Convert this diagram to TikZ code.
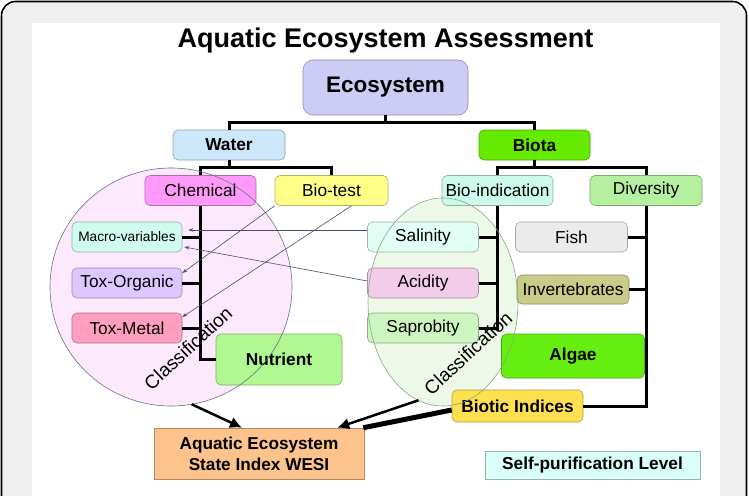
\documentclass[tikz,border=0pt]{standalone}
\usepackage{fontspec}
\setmainfont{Liberation Sans}
\usepackage{xcolor}
\usepackage{tikz}
\usetikzlibrary{arrows,arrows.meta,shapes,positioning}

\definecolor{framec}{RGB}{240,240,240}
\definecolor{ecoc}{RGB}{204,204,245}
\definecolor{waterc}{RGB}{204,230,250}
\definecolor{biotac}{RGB}{100,235,0}
\definecolor{chemc}{RGB}{255,153,250}
\definecolor{testc}{RGB}{255,255,136}
\definecolor{indc}{RGB}{204,250,235}
\definecolor{divc}{RGB}{180,240,160}
\definecolor{macroc}{RGB}{208,252,238}
\definecolor{orgc}{RGB}{220,200,255}
\definecolor{metc}{RGB}{255,158,192}
\definecolor{nutc}{RGB}{176,248,144}
\definecolor{salc}{RGB}{225,255,245}
\definecolor{acidc}{RGB}{242,204,232}
\definecolor{saprc}{RGB}{205,245,192}
\definecolor{fishc}{RGB}{235,235,235}
\definecolor{invc}{RGB}{200,204,136}
\definecolor{algc}{RGB}{102,238,17}
\definecolor{bioticc}{RGB}{255,224,80}
\definecolor{selfc}{RGB}{217,255,248}
\definecolor{wesic}{RGB}{252,196,140}
\definecolor{linkc}{RGB}{70,80,110}
\definecolor{zonepc}{RGB}{252,233,252}
\definecolor{zonepd}{RGB}{110,110,140}
\definecolor{zonegc}{RGB}{238,248,232}
\definecolor{zonegd}{RGB}{130,170,130}

\begin{document}
\begin{tikzpicture}[x=1pt,y=-1pt,
    box/.style={rectangle, rounded corners=5pt, fill=#1, draw=#1!70!black, line width=0.6pt,
      minimum width=111pt, minimum height=30pt, inner sep=0pt, font=\fontsize{17.3}{19}\selectfont},
    hbox/.style={box=#1, font=\bfseries\fontsize{17.3}{19}\selectfont},
    tree/.style={line width=3pt},
    link/.style={-{Stealth[length=5pt,width=3.5pt]}, draw=linkc, line width=0.6pt},
    big/.style={-{Latex[length=12pt,width=12pt]}, line width=2.5pt},
    zone/.style={ellipse, inner sep=0pt, outer sep=0pt, line width=0.6pt},
    cls/.style={rotate=43, font=\fontsize{19}{20}\selectfont}]

    \useasboundingbox (0,0) rectangle (749,495);
    \clip (0,0) rectangle (749,495);
    \draw[line width=1.6pt, rounded corners=14pt, fill=framec] (1.5,1.5) rectangle (746.5,560);
    \fill[white] (32,23) rectangle (720,500);

    \node[font=\bfseries\fontsize{27}{30}\selectfont, anchor=base] (title) at (385.5,48) {Aquatic Ecosystem Assessment};

    \node[zone, fill=zonepc, minimum width=242pt, minimum height=238pt] (cls1) at (171,287) {};
    \node[zone, fill=zonegc, minimum width=150pt, minimum height=208pt] (cls2) at (443,302) {};

    \node[hbox=ecoc, minimum width=165pt, minimum height=55pt, rounded corners=10pt, font=\bfseries\fontsize{22.5}{26}\selectfont] (eco) at (385.5,87.5) {Ecosystem};
    \node[hbox=waterc, minimum width=112pt] (water) at (229,145) {Water};
    \node[hbox=biotac] (biota) at (534.5,145) {Biota};
    \node[box=chemc] (chem) at (200.5,190.5) {Chemical};
    \node[box=testc, minimum width=113pt] (biotest) at (331.5,190.5) {Bio-test};
    \node[box=indc] (bioind) at (497.5,190.5) {Bio-indication};
    \node[box=divc, minimum width=112pt] (div) at (646,190.5) {Diversity};
    \node[box=macroc, minimum width=110pt, font=\fontsize{13.7}{15}\selectfont] (macro) at (127,237) {Macro-variables};
    \node[box=orgc, minimum width=110pt] (toxorg) at (127,283) {Tox-Organic};
    \node[box=metc, minimum width=110pt] (toxmet) at (127,328) {Tox-Metal};
    \node[hbox=nutc, minimum width=126pt, minimum height=51pt] (nutr) at (279,359.5) {Nutrient};
    \node[box=salc] (sal) at (423,237) {Salinity};
    \node[box=acidc] (acid) at (423,283) {Acidity};
    \node[box=saprc] (sapr) at (423,328) {Saprobity};
    \node[box=fishc, minimum width=112pt] (fish) at (571.5,237) {Fish};
    \node[box=invc, minimum width=112pt, minimum height=29pt] (inv) at (573,289.5) {Invertebrates};
    \node[hbox=algc, minimum width=143pt, minimum height=44pt] (algae) at (573,356) {Algae};
    \node[hbox=bioticc, minimum width=131pt, minimum height=32pt] (biotic) at (517.5,406) {Biotic Indices};
    \node[hbox=selfc, sharp corners, minimum width=215pt, minimum height=28pt] (self) at (592.5,465) {Self-purification Level};
    \node[hbox=wesic, sharp corners, minimum width=210pt, minimum height=51pt, align=center, font=\bfseries\fontsize{17.2}{21}\selectfont] (wesi) at (259,453.5) {Aquatic Ecosystem\\State Index WESI};

    \draw[tree] (eco.south) -- ++(0,7) -| (water.north);
    \draw[tree] (eco.south) -- ++(0,7) -| (biota.north);
    \draw[tree] (water.south) -- ++(0,7) -| (chem.north);
    \draw[tree] (water.south) -- ++(0,7) -| (biotest.north);
    \draw[tree] (biota.south) -- ++(0,7) -| (bioind.north);
    \draw[tree] (biota.south) -- ++(0,7) -| (div.north);
    \draw[tree] (chem.south) |- (nutr.west);
    \foreach \n in {macro,toxorg,toxmet}
        \draw[tree] (\n.east) -- (\n.east -| chem.south);
    \draw[tree] (bioind.south) |- (sapr.east);
    \foreach \n in {sal,acid}
        \draw[tree] (\n.east) -- (\n.east -| bioind.south);
    \draw[tree] (div.south) |- (biotic.east);
    \foreach \n in {fish,inv,algae}
        \draw[tree] (\n.east) -- (\n.east -| div.south);

    \draw[zonepd, line width=0.6pt] (cls1.center) ellipse (121 and 119);
    \draw[zonegd, line width=0.6pt] (cls2.center) ellipse (75 and 104);
    \node[cls] (lab1) at (188,348) {Classification};
    \node[cls] (lab2) at (468,353) {Classification};

    \draw[link] ([yshift=7pt]sal.west) -- ([xshift=6pt,yshift=7pt]macro.east);
    \draw[link] ([yshift=2pt]acid.west) -- ([xshift=2pt,yshift=-10pt]macro.east);
    \draw[link] (biotest.south west) -- ([yshift=10pt]toxorg.east);
    \draw[link] ([xshift=20pt]biotest.south) -- ([yshift=11pt]toxmet.east);

    \draw[big] (cls1.-80) -- ([xshift=-17pt]wesi.north);
    \draw[big] (cls2.-104) -- ([xshift=-27pt]wesi.north east);
    \draw[line width=5pt] ([yshift=-4pt]biotic.west) -- ([xshift=-1pt]wesi.north east);
\end{tikzpicture}
\end{document}
